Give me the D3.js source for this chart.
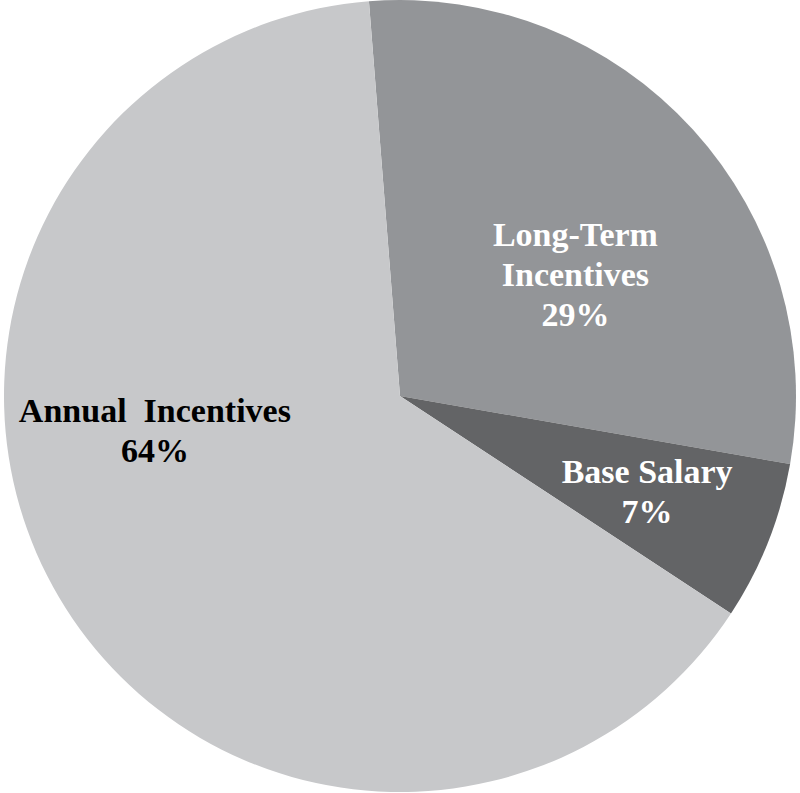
<!DOCTYPE html>
<html>
<head>
<meta charset="utf-8">
<script src="https://cdn.jsdelivr.net/npm/d3@7"></script>
<style>
  html, body { margin: 0; padding: 0; background: #fff; }
  svg { display: block; }
</style>
</head>
<body>
<script>
var w = 800;
var h = 793;

// slice data, clockwise from the top
var categories = ["Long-Term Incentives", "Base Salary", "Annual Incentives"];
var shares = [29, 6.5, 64.5];
var shareLabels = ["29%", "7%", "64%"];
var labelLines = [["Long-Term", "Incentives", "29%"], ["Base Salary", "7%"], ["Annual\u00a0 Incentives", "64%"]];

var colors = ["#939598", "#636466", "#c7c8ca"];
var textColors = ["#ffffff", "#ffffff", "#000000"];
// label block centre, as fraction of the radius from the pie centre
var labelPos = [[0.443, -0.307], [0.624, 0.239], [-0.619, 0.087]];

var cx = 400, cy = 396, r = 396;
var startAngle = -4.5 * Math.PI / 180;

var data = categories.map(function (c, i) {
    return {name: c, value: shares[i], label: shareLabels[i], lines: labelLines[i], i: i};
});

var pie = d3.pie()
    .value(function (d) { return d.value; })
    .sort(null)
    .startAngle(startAngle)
    .endAngle(startAngle + 2 * Math.PI);

var arc = d3.arc()
    .innerRadius(0)
    .outerRadius(r);

var svg = d3.select('body').append('svg')
    .attr('width', w)
    .attr('height', h)
    .append('g')
    .attr('transform', 'translate(' + cx + ',' + cy + ')');

svg.selectAll('path.slice')
    .data(pie(data))
    .enter()
    .append('path')
    .attr('class', 'slice')
    .attr('d', arc)
    .attr('fill', function (d) { return colors[d.data.i]; });

var lineH = 40;

var labels = svg.selectAll('text.label')
    .data(data)
    .enter()
    .append('text')
    .attr('class', 'label')
    .attr('text-anchor', 'middle')
    .style('font-family', '"Liberation Serif", "Times New Roman", serif')
    .style('font-weight', 'bold')
    .style('font-size', '34px')
    .attr('fill', function (d) { return textColors[d.i]; })
    .attr('transform', function (d) {
        return 'translate(' + (labelPos[d.i][0] * r) + ',' + (labelPos[d.i][1] * r) + ')';
    });

labels.selectAll('tspan')
    .data(function (d) {
        var n = d.lines.length;
        return d.lines.map(function (t, k) { return {t: t, y: (k - (n - 1) / 2) * lineH}; });
    })
    .enter()
    .append('tspan')
    .attr('x', 0)
    .attr('y', function (d) { return d.y; })
    .attr('dy', '0.35em')
    .text(function (d) { return d.t; });
</script>
</body>
</html>
